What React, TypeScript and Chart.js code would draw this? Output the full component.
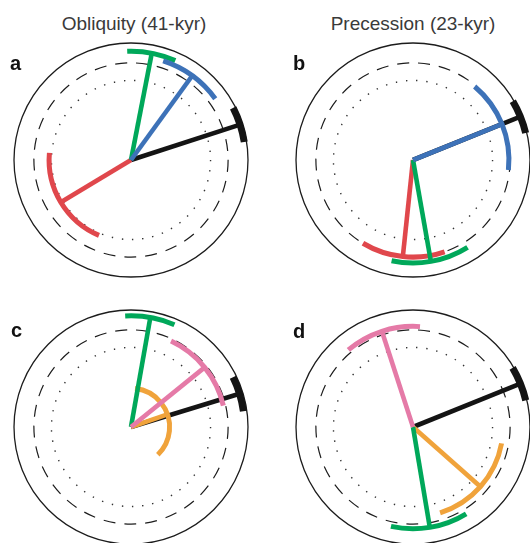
import React, { useEffect, useRef } from 'react';
import { Chart, registerables } from 'chart.js';

Chart.register(...registerables);

// ---------- data ----------
const columnTitles = ['Obliquity (41-kyr)', 'Precession (23-kyr)'];
const panelLetters = ['a', 'b', 'c', 'd'];

// reference rings (fraction of outer radius): outer, dashed, dotted
const ringRadii = [1.0, 0.83, 0.68];

// phase in degrees clockwise from 12 o'clock, amplitude as fraction of outer ring,
// error as half-width of the phase error arc (degrees). First series is drawn on top.
const aSeries = ['Blue', 'Green', 'Red', 'Black'];
const aPhase = [36, 11, 239, 72];
const aAmplitude = [0.89, 0.93, 0.7, 0.98];
const aError = [18, 13, 36, 9];

const bSeries = ['Blue', 'Green', 'Red', 'Black'];
const bPhase = [68, 170, 186, 68];
const bAmplitude = [0.82, 0.88, 0.83, 0.99];
const bError = [28, 22, 25, 8.5];

const cSeries = ['Pink', 'Green', 'Orange', 'Black'];
const cPhase = [51, 10, 71, 73];
const cAmplitude = [0.81, 0.95, 0.33, 0.97];
const cError = [26, 13, 65, 9];

const dSeries = ['Pink', 'Green', 'Orange', 'Black'];
const dPhase = [342, 170.5, 131.5, 68];
const dAmplitude = [0.86, 0.87, 0.77, 0.99];
const dError = [22, 22, 31, 8.7];

// ---------- styles ----------
const seriesColors: Record<string, string> = {
  Black: '#141414',
  Green: '#00a85a',
  Blue: '#3d72b8',
  Red: '#e0474c',
  Pink: '#e57aa7',
  Orange: '#f0a33b',
};

const CANVAS = 250;
const PX_PER_UNIT = 117;
const EXT = CANVAS / 2 / PX_PER_UNIT;

type WheelProps = {
  series: string[];
  phase: number[];
  amplitude: number[];
  error: number[];
  left: number;
  top: number;
};

function PhaseWheel({ series, phase, amplitude, error, left, top }: WheelProps) {
  const ref = useRef<HTMLCanvasElement>(null);

  useEffect(() => {
    const canvas = ref.current;
    if (!canvas) return;
    const rad = Math.PI / 180;
    const toXY = (p: number, r: number) => ({ x: r * Math.sin(p * rad), y: r * Math.cos(p * rad) });

    const wheelPlugin = {
      id: 'wheel',
      beforeDatasetsDraw(chart: any) {
        const { ctx, scales } = chart;
        const cx = scales.x.getPixelForValue(0);
        const cy = scales.y.getPixelForValue(0);
        const r = (v: number) => scales.x.getPixelForValue(v) - cx;
        ctx.save();
        ctx.strokeStyle = '#1c1c1c';
        ctx.lineWidth = 1.3;
        ctx.setLineDash([]);
        ctx.beginPath();
        ctx.arc(cx, cy, r(ringRadii[0]), 0, 2 * Math.PI);
        ctx.stroke();

        ctx.lineWidth = 1.2;
        ctx.setLineDash([12, 9]);
        ctx.beginPath();
        ctx.arc(cx, cy, r(ringRadii[1]), 0, 2 * Math.PI);
        ctx.stroke();

        ctx.strokeStyle = '#333';
        ctx.lineWidth = 1.4;
        ctx.setLineDash([1.4, 8.8]);
        ctx.beginPath();
        ctx.arc(cx, cy, r(ringRadii[2]), 0, 2 * Math.PI);
        ctx.stroke();
        ctx.restore();
      },
      afterDatasetDraw(chart: any, args: any) {
        const i = args.index;
        const { ctx, scales } = chart;
        const cx = scales.x.getPixelForValue(0);
        const cy = scales.y.getPixelForValue(0);
        const radius = scales.x.getPixelForValue(amplitude[i]) - cx;
        const s = series[i];
        ctx.save();
        ctx.strokeStyle = seriesColors[s];
        ctx.lineWidth = s === 'Black' ? 7 : 5;
        ctx.lineCap = 'butt';
        ctx.setLineDash([]);
        ctx.beginPath();
        ctx.arc(
          cx,
          cy,
          radius,
          (phase[i] - error[i] - 90) * rad,
          (phase[i] + error[i] - 90) * rad
        );
        ctx.stroke();
        ctx.restore();
      },
    };

    const chart = new Chart(canvas, {
      type: 'scatter',
      data: {
        datasets: series.map((s, i) => ({
          label: s,
          data: [{ x: 0, y: 0 }, toXY(phase[i], amplitude[i])],
          showLine: true,
          borderColor: seriesColors[s],
          backgroundColor: seriesColors[s],
          borderWidth: 4.6,
          borderCapStyle: 'butt',
          pointRadius: 0,
          fill: false,
          clip: false,
        })),
      },
      options: {
        animation: false,
        responsive: false,
        events: [],
        layout: { padding: 0 },
        plugins: { legend: { display: false }, tooltip: { enabled: false } },
        scales: {
          x: { type: 'linear', min: -EXT, max: EXT, display: false },
          y: { type: 'linear', min: -EXT, max: EXT, display: false },
        },
      },
      plugins: [wheelPlugin],
    } as any);

    return () => chart.destroy();
  }, []);

  return (
    <canvas
      ref={ref}
      width={CANVAS}
      height={CANVAS}
      style={{ position: 'absolute', left, top, width: CANVAS, height: CANVAS }}
    />
  );
}

const centers = [
  [131, 160],
  [413, 160],
  [131, 427],
  [413, 427],
];

const panelData = [
  { series: aSeries, phase: aPhase, amplitude: aAmplitude, error: aError },
  { series: bSeries, phase: bPhase, amplitude: bAmplitude, error: bError },
  { series: cSeries, phase: cPhase, amplitude: cAmplitude, error: cError },
  { series: dSeries, phase: dPhase, amplitude: dAmplitude, error: dError },
];

const letterPos = [
  [10, 53],
  [293, 53],
  [11, 320],
  [293, 321],
];

export default function App() {
  return (
    <div
      style={{
        position: 'fixed',
        left: 0,
        top: 0,
        width: 530,
        height: 543,
        overflow: 'hidden',
        background: '#fff',
        fontFamily: '"Liberation Sans", Arial, sans-serif',
      }}
    >
      {panelData.map((p, i) => (
        <PhaseWheel
          key={i}
          {...p}
          left={centers[i][0] - CANVAS / 2}
          top={centers[i][1] - CANVAS / 2}
        />
      ))}
      {columnTitles.map((t, i) => (
        <div
          key={t}
          style={{
            position: 'absolute',
            left: (i === 0 ? 134 : 413) - 120,
            width: 240,
            top: 14,
            textAlign: 'center',
            fontSize: 19,
            lineHeight: '19px',
            color: '#3a3a3a',
            whiteSpace: 'nowrap',
          }}
        >
          {t}
        </div>
      ))}
      {panelLetters.map((l, i) => (
        <div
          key={l}
          style={{
            position: 'absolute',
            left: letterPos[i][0],
            top: letterPos[i][1],
            fontSize: 20,
            lineHeight: '20px',
            fontWeight: 'bold',
            color: '#111',
          }}
        >
          {l}
        </div>
      ))}
    </div>
  );
}
